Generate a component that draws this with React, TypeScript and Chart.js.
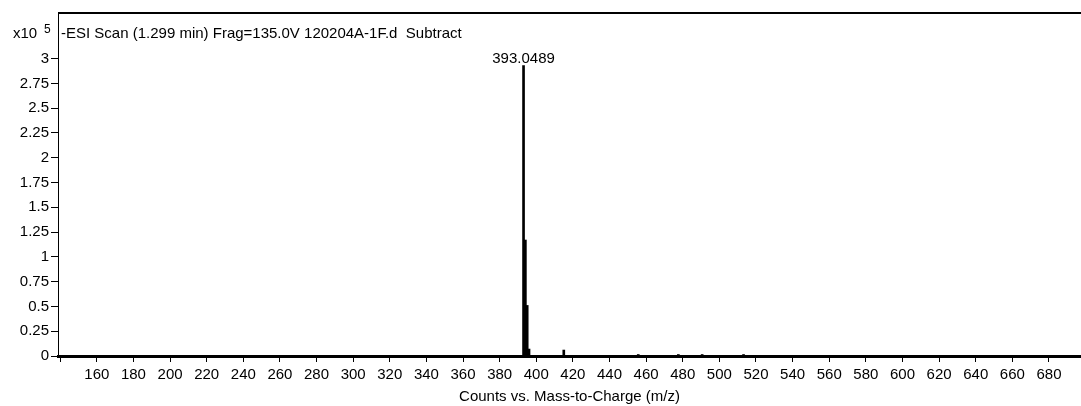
import React, { useEffect, useRef } from "react";
import { Chart, registerables } from "chart.js";

Chart.register(...registerables);

// m/z of each peak and counts (x10^5)
const mzValues = [393.0489, 394.05, 395.05, 396.05, 415.03, 455.7, 477.6, 490.6, 513.2];
const countValues = [2.93, 1.17, 0.51, 0.07, 0.06, 0.015, 0.015, 0.015, 0.015];

const xTickValues = [140, 160, 180, 200, 220, 240, 260, 280, 300, 320, 340, 360, 380, 400, 420, 440, 460, 480, 500, 520, 540, 560, 580, 600, 620, 640, 660, 680];
const yTickValues = [0, 0.25, 0.5, 0.75, 1, 1.25, 1.5, 1.75, 2, 2.25, 2.5, 2.75, 3];
const yTickLabels = ["0", "0.25", "0.5", "0.75", "1", "1.25", "1.5", "1.75", "2", "2.25", "2.5", "2.75", "3"];

const peakLabel = "393.0489";
const titleText = "-ESI Scan (1.299 min) Frag=135.0V 120204A-1F.d  Subtract";
const xAxisTitle = "Counts vs. Mass-to-Charge (m/z)";

const FONT = '"Liberation Sans", Arial, sans-serif';
const FS = 15;

export default function App() {
  const ref = useRef<HTMLCanvasElement | null>(null);

  useEffect(() => {
    if (!ref.current) return;
    const overlay = {
      id: "overlay",
      afterDraw(chart: any) {
        const ctx = chart.ctx;
        const { left, right, top } = chart.chartArea;
        const xs = chart.scales.x;
        const ys = chart.scales.y;
        ctx.save();
        // top border
        ctx.strokeStyle = "#000";
        ctx.lineWidth = 2;
        ctx.beginPath();
        ctx.moveTo(left, top);
        ctx.lineTo(right, top);
        ctx.stroke();
        ctx.fillStyle = "#000";
        ctx.font = `${FS}px ${FONT}`;
        ctx.textBaseline = "alphabetic";
        // multiplier
        ctx.textAlign = "left";
        ctx.fillText("x10", 13, 38);
        ctx.font = `12px ${FONT}`;
        ctx.fillText("5", 44, 33);
        // title
        ctx.font = `${FS}px ${FONT}`;
        ctx.fillText(titleText, left + 3, 38);
        // peak label
        ctx.textAlign = "center";
        const px = xs.getPixelForValue(mzValues[0]);
        const py = ys.getPixelForValue(countValues[0]);
        ctx.fillText(peakLabel, px, py - 3);
        ctx.restore();
      },
    };

    const chart = new Chart(ref.current, {
      type: "bar",
      data: {
        datasets: [
          {
            data: mzValues.map((m, i) => ({ x: m, y: countValues[i] })),
            backgroundColor: "#000",
            borderWidth: 0,
            barThickness: 2,
          },
        ],
      },
      options: {
        animation: false,
        responsive: false,
        maintainAspectRatio: false,
        layout: { padding: { top: 13, right: 0, left: 0, bottom: 0 } },
        plugins: { legend: { display: false }, tooltip: { enabled: false }, title: { display: false } },
        scales: {
          x: {
            type: "linear",
            min: 138.8,
            max: 697.5,
            offset: false,
            grid: { drawOnChartArea: false, drawTicks: true, tickLength: 6, color: "#000", lineWidth: 1, offset: false },
            border: { display: true, color: "#000", width: 3 },
            afterBuildTicks: (scale: any) => {
              scale.ticks = xTickValues.map((v) => ({ value: v }));
            },
            afterFit: (scale: any) => {
              scale.height = 50;
            },
            ticks: {
              color: "#000",
              font: { family: FONT, size: FS },
              padding: 4,
              maxRotation: 0,
              autoSkip: false,
              callback: (v: any) => (v === 140 ? "" : String(v)),
            },
            title: {
              display: true,
              text: xAxisTitle,
              color: "#000",
              font: { family: FONT, size: FS },
              padding: { top: 2, bottom: 0 },
            },
          },
          y: {
            type: "linear",
            min: 0,
            max: 3.46,
            grid: { drawOnChartArea: false, drawTicks: true, tickLength: 7, color: "#000", lineWidth: 1 },
            border: { display: true, color: "#000", width: 1 },
            afterBuildTicks: (scale: any) => {
              scale.ticks = yTickValues.map((v) => ({ value: v }));
            },
            afterFit: (scale: any) => {
              scale.width = 58;
            },
            ticks: {
              color: "#000",
              font: { family: FONT, size: FS },
              padding: 2,
              autoSkip: false,
              callback: (v: any) => {
                const i = yTickValues.indexOf(v);
                return i >= 0 ? yTickLabels[i] : "";
              },
            },
          },
        },
      },
      plugins: [overlay],
    });
    return () => chart.destroy();
  }, []);

  return (
    <div style={{ position: "fixed", left: 0, top: 0, width: 1081, height: 406, background: "#fff" }}>
      <canvas ref={ref} width={1081} height={406} style={{ width: 1081, height: 406, display: "block" }} />
    </div>
  );
}
